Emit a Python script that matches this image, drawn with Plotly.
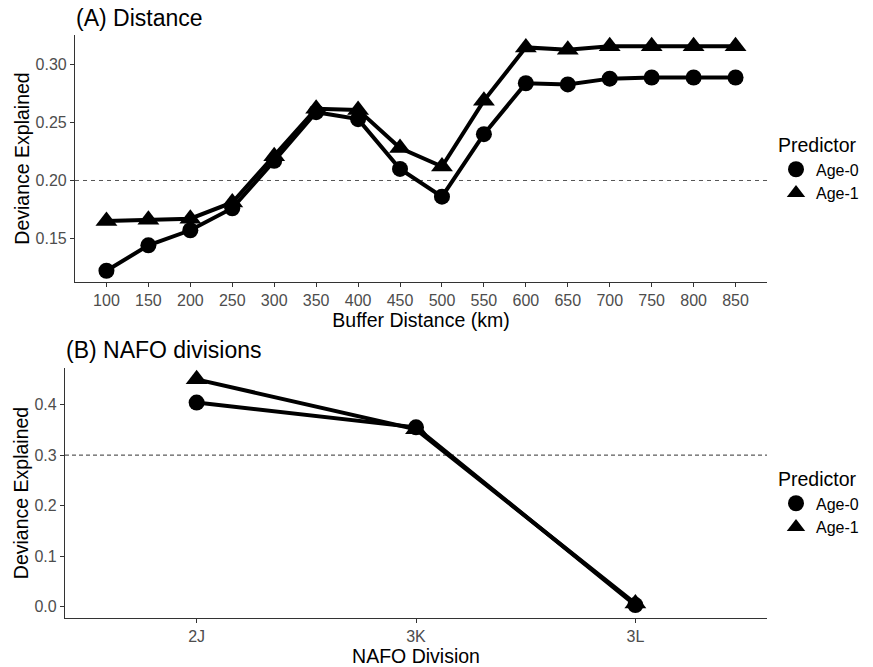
import plotly.graph_objects as go

# Panel A data
buffer_km = [100, 150, 200, 250, 300, 350, 400, 450, 500, 550, 600, 650, 700, 750, 800, 850]
age0_dist = [0.122, 0.144, 0.157, 0.176, 0.217, 0.259, 0.253, 0.210, 0.186, 0.240, 0.284, 0.283, 0.288, 0.289, 0.289, 0.289]
age1_dist = [0.165, 0.166, 0.167, 0.181, 0.221, 0.262, 0.261, 0.228, 0.212, 0.269, 0.315, 0.313, 0.316, 0.316, 0.316, 0.316]
x_ticks_a = [100, 150, 200, 250, 300, 350, 400, 450, 500, 550, 600, 650, 700, 750, 800, 850]
y_ticks_a = [0.15, 0.20, 0.25, 0.30]

# Panel B data
nafo_div = ["2J", "3K", "3L"]
age0_nafo = [0.404, 0.355, 0.003]
age1_nafo = [0.450, 0.351, 0.006]
y_ticks_b = [0.0, 0.1, 0.2, 0.3, 0.4]

series_names = ["Age-0", "Age-1"]
symbols = ["circle", "triangle-up"]

FONT = "Liberation Sans, Arial, sans-serif"
TICKC = "#4d4d4d"
AXC = "#333333"

fig = go.Figure()

def add_panel(xs, ys_list, xa, ya, legend, sizes):
    for name, ys, sym, sz in zip(series_names, ys_list, symbols, sizes):
        fig.add_trace(go.Scatter(
            x=xs, y=ys, mode="lines+markers", name=name,
            line=dict(color="black", width=4),
            marker=dict(symbol=sym, size=sz, color="black"),
            xaxis=xa, yaxis=ya, showlegend=False, cliponaxis=False))
    for name, sym, sz in zip(series_names, symbols, sizes):
        fig.add_trace(go.Scatter(
            x=[None], y=[None], mode="markers", name=name,
            marker=dict(symbol=sym, size=sz, color="black"),
            xaxis=xa, yaxis=ya, showlegend=True, legend=legend))

add_panel(buffer_km, [age0_dist, age1_dist], "x", "y", "legend", [16, 19])
add_panel(nafo_div, [age0_nafo, age1_nafo], "x2", "y2", "legend2", [16, 19])

W, H = 873, 667
def px_x(p): return p / W
def px_y(p): return 1 - p / H

axis_common = dict(
    showgrid=False, zeroline=False, showline=True, linecolor=AXC, linewidth=1.2,
    ticks="outside", ticklen=4, tickcolor=AXC, tickwidth=1,
    tickfont=dict(family=FONT, size=16, color=TICKC),
    title_font=dict(family=FONT, size=19.5, color="black"),
)

leg_common = dict(xanchor="left", yanchor="top",
                  font=dict(size=16, family=FONT), itemwidth=30,
                  tracegroupgap=0, bgcolor="rgba(0,0,0,0)")

fig.update_layout(
    width=W, height=H,
    margin=dict(l=0, r=0, t=0, b=0),
    paper_bgcolor="white", plot_bgcolor="white",
    font=dict(family=FONT, color="black"),
    xaxis=dict(**axis_common, domain=[px_x(75), px_x(767)], anchor="y",
               range=[62.5, 887.5], tickvals=x_ticks_a,
               title=dict(text="Buffer Distance (km)", standoff=0)),
    yaxis=dict(**axis_common, domain=[px_y(282), px_y(35)], anchor="x",
               range=[0.1123, 0.3257], tickvals=y_ticks_a,
               tickformat=".2f",
               title=dict(text="Deviance Explained", standoff=0)),
    xaxis2=dict(**axis_common, domain=[px_x(65), px_x(767)], anchor="y2",
                type="category", range=[-0.6, 2.6],
                title=dict(text="NAFO Division", standoff=0)),
    yaxis2=dict(**axis_common, domain=[px_y(618), px_y(368)], anchor="x2",
                range=[-0.0225, 0.4725], tickvals=y_ticks_b, tickformat=".1f",
                title=dict(text="Deviance Explained", standoff=0)),
    legend=dict(**leg_common, x=px_x(776), y=px_y(127),
                title=dict(text="Predictor", font=dict(size=19.5, family=FONT))),
    legend2=dict(**leg_common, x=px_x(776), y=px_y(461),
                 title=dict(text="Predictor", font=dict(size=19.5, family=FONT))),
    shapes=[
        dict(type="line", xref="x domain", yref="y", x0=0, x1=1, y0=0.2, y1=0.2,
             line=dict(color="#555555", width=1, dash="4px,4px"), layer="below"),
        dict(type="line", xref="x2 domain", yref="y2", x0=0, x1=1, y0=0.3, y1=0.3,
             line=dict(color="#333333", width=1, dash="4px,3px"), layer="below"),
    ],
    annotations=[
        dict(text="(A) Distance", xref="paper", yref="paper", x=px_x(74), y=px_y(18),
             xanchor="left", yanchor="middle", showarrow=False,
             font=dict(size=23, family=FONT, color="black")),
        dict(text="(B) NAFO divisions", xref="paper", yref="paper", x=px_x(64), y=px_y(350),
             xanchor="left", yanchor="middle", showarrow=False,
             font=dict(size=23, family=FONT, color="black")),
    ],
)

fig.write_html("out.html")
